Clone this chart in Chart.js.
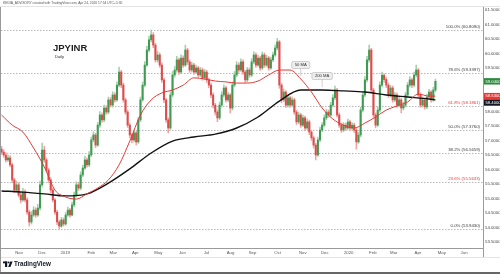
<!DOCTYPE html>
<html>
<head>
<meta charset="utf-8">
<script src="https://cdn.jsdelivr.net/npm/chart.js@4.4.0/dist/chart.umd.min.js"></script>
<style>
html, body { margin: 0; padding: 0; background: #fff; }
canvas { display: block; }
</style>
</head>
<body>
<canvas id="chart-area" width="500" height="274"></canvas>
<script>
// time axis: month labels and their bar positions
var monthLabels = ["Nov","Dec","2019","Feb","Mar","Apr","May","Jun","Jul","Aug","Sep","Oct","Nov","Dec","2020","Feb","Mar","Apr","May","Jun"];
var monthIdx = [8.2,19.0,29.8,42.0,52.3,62.6,73.4,84.6,95.9,107.1,117.4,129.2,140.9,151.2,162.4,173.7,183.5,194.8,206.0,216.4];

var priceTicks = [53.5,54,54.5,55,55.5,56,56.5,57,57.5,58,58.5,59,59.5,60,60.5,61,61.5];

// candles (one per two sessions)
var firstOpen = 56.70;
var closes = [
56.60,56.50,56.33,56.40,56.16,55.64,55.29,55.47,55.12,54.95,
55.22,54.95,54.53,54.19,54.43,54.60,54.43,54.67,55.47,56.67,
56.33,55.98,55.64,55.29,54.95,54.53,54.19,54.05,54.26,54.12,
54.43,54.60,54.43,54.78,55.12,55.47,55.36,55.81,56.05,56.33,
56.16,56.50,57.02,57.19,56.84,57.53,57.88,57.71,58.12,57.98,
58.40,58.22,58.57,58.40,58.91,59.36,58.91,58.40,57.98,57.53,
57.19,57.02,57.26,56.95,57.71,58.40,58.91,59.60,60.12,60.47,
60.64,60.29,59.78,59.95,59.60,59.09,58.40,57.71,57.43,58.57,
59.26,59.43,59.78,59.36,59.84,59.60,60.12,59.71,59.43,59.60,
59.36,59.50,59.26,59.43,59.16,59.36,59.09,58.91,58.57,58.22,
57.98,57.78,58.22,58.57,58.81,58.40,58.57,58.12,58.91,59.26,
59.60,59.43,59.71,59.36,59.09,59.43,59.26,59.71,59.95,59.60,
59.84,59.50,59.95,59.60,59.84,59.50,59.78,59.95,60.19,60.40,
58.91,58.40,58.67,58.22,58.47,58.22,58.40,57.98,57.64,57.88,
57.53,57.78,57.43,57.64,57.29,57.09,56.84,56.50,57.02,57.36,
57.53,57.78,57.98,57.88,58.22,58.47,58.74,57.88,57.53,57.36,
57.53,57.43,57.64,57.43,57.53,57.36,56.95,57.19,58.05,58.57,
59.09,59.78,60.12,58.74,57.88,57.53,58.05,58.91,59.25,59.10,
58.91,58.57,58.81,58.40,58.57,58.22,58.40,58.12,58.22,58.57,
58.91,59.09,58.91,59.26,59.43,58.57,58.22,58.40,58.16,58.50,
58.67,58.40,58.74,59.04
];
var highs = [
56.80,56.68,56.58,56.50,56.48,56.22,55.70,55.60,55.55,55.20,
55.35,55.30,55.02,54.60,54.55,54.72,54.68,54.80,55.60,56.91,
56.80,56.40,56.05,55.72,55.35,55.00,54.60,54.25,54.35,54.33,
54.52,54.70,54.66,54.88,55.22,55.58,55.55,55.92,56.15,56.45,
56.40,56.62,57.12,57.30,57.25,57.62,58.00,57.95,58.22,58.20,
58.50,58.48,58.68,58.65,59.02,59.53,59.42,58.98,58.46,58.05,
57.60,57.25,57.35,57.32,57.80,58.50,59.02,59.72,60.25,60.60,
60.81,60.72,60.35,60.08,60.02,59.68,59.15,58.45,57.78,58.68,
59.38,59.55,59.90,59.85,59.95,59.92,60.29,60.18,59.78,59.70,
59.66,59.60,59.56,59.52,59.50,59.45,59.42,59.15,58.98,58.64,
58.28,58.05,58.32,58.68,58.92,58.88,58.66,58.62,59.02,59.38,
59.72,59.68,59.82,59.78,59.42,59.52,59.50,59.82,60.06,60.02,
59.94,59.90,60.05,60.02,59.94,59.90,59.88,60.05,60.30,60.52,
60.45,58.98,58.78,58.72,58.56,58.52,58.50,58.46,58.04,57.98,
57.94,57.88,57.84,57.74,57.70,57.35,57.15,56.90,57.12,57.46,
57.62,57.88,58.08,58.05,58.32,58.58,58.88,58.80,57.95,57.60,
57.62,57.60,57.74,57.70,57.62,57.60,57.42,57.28,58.15,58.68,
59.20,59.90,60.29,60.18,58.80,57.95,58.15,59.02,59.36,59.30,
59.18,58.98,58.90,58.88,58.66,58.64,58.50,58.46,58.32,58.66,
59.00,59.20,59.15,59.36,59.60,59.48,58.64,58.50,58.46,58.60,
58.76,58.72,58.84,59.12
];
var lows = [
56.52,56.42,56.25,56.28,56.10,55.55,55.20,55.22,55.05,54.85,
54.90,54.88,54.45,54.05,54.12,54.38,54.35,54.38,54.60,55.40,
56.25,55.90,55.55,55.20,54.88,54.45,54.10,53.95,54.00,54.05,
54.08,54.38,54.36,54.40,54.72,55.05,55.28,55.30,55.75,56.00,
56.08,56.10,56.45,56.95,56.75,56.80,57.45,57.62,57.65,57.90,
57.92,58.15,58.15,58.32,58.35,58.85,58.82,58.32,57.90,57.45,
57.10,56.92,56.95,56.85,56.90,57.65,58.35,58.85,59.55,60.05,
60.40,60.20,59.70,59.70,59.52,59.00,58.30,57.62,57.26,57.38,
58.50,59.18,59.36,59.28,59.30,59.52,59.55,59.62,59.35,59.36,
59.28,59.30,59.18,59.20,59.08,59.10,59.00,58.82,58.48,58.12,
57.88,57.65,57.72,58.15,58.50,58.32,58.34,57.95,58.05,58.85,
59.20,59.35,59.38,59.28,59.00,59.02,59.18,59.20,59.65,59.52,
59.55,59.42,59.45,59.52,59.55,59.42,59.45,59.72,59.90,60.12,
58.80,58.30,58.34,58.14,58.15,58.14,58.16,57.90,57.55,57.58,
57.45,57.48,57.35,57.38,57.20,57.00,56.74,56.33,56.45,56.96,
57.30,57.48,57.72,57.80,57.82,58.16,58.40,57.80,57.45,57.28,
57.30,57.35,57.38,57.35,57.36,57.28,56.70,56.90,57.12,57.98,
58.50,59.02,59.70,58.65,57.80,57.44,57.48,57.98,58.85,59.00,
58.82,58.48,58.50,58.32,58.34,58.14,58.16,57.95,58.05,58.15,
58.50,58.84,58.82,58.85,59.20,58.48,58.14,58.15,58.08,58.10,
58.44,58.32,58.35,58.68
];

// moving averages
var ma50Idx = [0,5,10,15,20,25,30,35,40,45,50,55,60,65,70,75,80,85,90,95,100,105,110,115,120,125,130,135,140,145,150,155,160,165,170,175,180,185,190,195,200,203];
var ma50 = [57.88,57.53,57.29,56.74,56.09,55.29,55.05,54.98,55.16,55.36,55.64,56.16,56.98,57.88,58.40,58.64,58.74,58.91,59.16,59.12,59.05,59.02,58.98,58.98,59.05,59.26,59.43,59.43,59.12,58.67,58.12,57.74,57.53,57.43,57.60,57.81,58.05,58.19,58.33,58.60,58.53,58.53];
var ma200Idx = [0,10,20,30,40,50,60,70,80,90,100,110,120,130,140,150,160,170,180,190,200,203];
var ma200 = [55.26,55.22,55.16,55.09,55.16,55.53,56.02,56.57,56.98,57.12,57.22,57.43,57.81,58.36,58.74,58.74,58.71,58.67,58.57,58.50,58.43,58.40];

// fibonacci retracement
var fibRatios = ["100.0%","78.6%","61.8%","50.0%","38.2%","23.6%","0.0%"];
var fibValues = [60.8090,59.3397,58.1861,57.3760,56.5659,55.5633,53.9430];
var fibRed = [false,false,true,false,false,true,false];

var callouts = [
    {text: "50 MA", idx: 140, line: 0},
    {text: "200 MA", idx: 150, line: 1}
];

var UP = "#3f9a52", DOWN = "#de4b4b";
var UP_WICK = "#9fd0a8", DOWN_WICK = "#f0a3a3";
var FONT = '"Liberation Sans", Arial, sans-serif';

var opens = closes.map(function (c, i) { return i ? closes[i - 1] : firstOpen; });
var bodyColors = closes.map(function (c, i) { return c >= opens[i] ? UP : DOWN; });
var wickColors = closes.map(function (c, i) { return c >= opens[i] ? UP_WICK : DOWN_WICK; });

var overlay = {
    id: "overlay",
    beforeDatasetsDraw: function (chart) {
        var ctx = chart.ctx, a = chart.chartArea, y = chart.scales.y;
        ctx.save();
        ctx.lineWidth = 1;
        ctx.setLineDash([1.5, 1.5]);
        ctx.strokeStyle = "#b8b8b8";
        fibValues.forEach(function (v) {
            var py = Math.round(y.getPixelForValue(v)) + 0.5;
            ctx.beginPath();
            ctx.moveTo(a.left, py);
            ctx.lineTo(a.right, py);
            ctx.stroke();
        });
        ctx.setLineDash([]);
        ctx.font = "4.3px " + FONT;
        ctx.textAlign = "right";
        ctx.textBaseline = "bottom";
        fibValues.forEach(function (v, k) {
            ctx.fillStyle = fibRed[k] ? "#e53935" : "#3a3a3a";
            ctx.fillText(fibRatios[k] + " (" + v.toFixed(4) + ")", a.right - 3, y.getPixelForValue(v) - 1);
        });
        ctx.restore();
    },
    afterDatasetsDraw: function (chart) {
        var ctx = chart.ctx, x = chart.scales.x, y = chart.scales.y;
        ctx.save();
        ctx.font = "4.2px " + FONT;
        ctx.textAlign = "center";
        ctx.textBaseline = "middle";
        callouts.forEach(function (c) {
            var vals = c.line === 0 ? ma50 : ma200;
            var idxs = c.line === 0 ? ma50Idx : ma200Idx;
            var px = x.getPixelForValue(c.idx);
            var py = y.getPixelForValue(vals[idxs.indexOf(c.idx)]);
            var w = ctx.measureText(c.text).width + 6, h = 7;
            var bx = px - w / 2, by = py - 10.5 - h;
            ctx.strokeStyle = "#c4c4c4";
            ctx.lineWidth = 0.8;
            ctx.beginPath();
            ctx.moveTo(px, by + h);
            ctx.lineTo(px, py - 3);
            ctx.stroke();
            ctx.fillStyle = "#eeeeee";
            ctx.beginPath();
            ctx.roundRect(bx, by, w, h, 1.5);
            ctx.fill();
            ctx.stroke();
            ctx.fillStyle = "#333";
            ctx.fillText(c.text, px, by + h / 2 + 0.3);
        });
        ctx.restore();
    },
    afterDraw: function (chart) {
        var ctx = chart.ctx, a = chart.chartArea, y = chart.scales.y;
        var W = chart.width, H = chart.height;
        ctx.save();

        // frame
        ctx.fillStyle = "#9a9a9a";
        ctx.fillRect(0, 7, 1, H - 9);
        ctx.fillStyle = "#666";
        ctx.fillRect(0, H - 2, W, 2);
        ctx.fillStyle = "#e4e4e4";
        ctx.fillRect(0, 6, W, 1);
        ctx.fillRect(1, a.bottom + 9, W, 1);
        ctx.fillStyle = "#9a9a9a";
        ctx.fillRect(a.right, a.bottom, 1, 9);

        // header
        ctx.fillStyle = "#555";
        ctx.font = "3.3px " + FONT;
        ctx.textAlign = "left";
        ctx.textBaseline = "middle";
        ctx.fillText("KEDIA_ADVISORY created with TradingView.com, Apr 24, 2020 17:54 UTC+5:30", 3, 3.5);

        // title
        ctx.fillStyle = "#1e1e1e";
        ctx.font = "bold 9.5px " + FONT;
        ctx.textBaseline = "alphabetic";
        ctx.fillText("JPYINR", 53, 50.5);
        ctx.font = "4px " + FONT;
        ctx.fillText("Daily", 55, 58);

        // price tags
        function tag(val, bg, py) {
            ctx.fillStyle = bg;
            ctx.fillRect(a.right + 1, py - 3.2, W - a.right - 1, 6.4);
            ctx.fillStyle = "#fff";
            ctx.font = "4.2px " + FONT;
            ctx.textBaseline = "middle";
            ctx.fillText(val.toFixed(4), a.right + 2.5, py + 0.2);
        }
        var last = closes[closes.length - 1];
        tag(last, last >= opens[opens.length - 1] ? "#2e8b3e" : "#d32f2f", y.getPixelForValue(last));
        var pyRed = y.getPixelForValue(ma50[ma50.length - 1]);
        var pyBlack = Math.max(y.getPixelForValue(ma200[ma200.length - 1]), pyRed + 6.4);
        tag(ma200[ma200.length - 1], "#131722", pyBlack);
        tag(ma50[ma50.length - 1], "#e53935", pyRed);

        // TradingView logo
        ctx.fillStyle = "#131722";
        ctx.fillRect(3, 261.5, 4.2, 1.8);
        ctx.fillRect(5, 261.5, 2.2, 5.5);
        ctx.beginPath();
        ctx.arc(8.6, 262.4, 0.9, 0, Math.PI * 2);
        ctx.fill();
        ctx.beginPath();
        ctx.moveTo(10.2, 261.5);
        ctx.lineTo(12.6, 261.5);
        ctx.lineTo(10.4, 267);
        ctx.lineTo(8.2, 267);
        ctx.closePath();
        ctx.fill();
        ctx.font = "bold 6.3px " + FONT;
        ctx.textBaseline = "middle";
        ctx.fillText("TradingView", 14, 264.5);

        ctx.restore();
    }
};

var ctx = document.getElementById("chart-area");

var myChart = new Chart(ctx, {
    type: "bar",
    data: {
        datasets: [
            {
                type: "line",
                label: "50 MA",
                data: ma50Idx.map(function (v, k) { return {x: v, y: ma50[k]}; }),
                borderColor: "#e53935",
                borderWidth: 1,
                pointRadius: 0,
                cubicInterpolationMode: "monotone",
                order: 0
            },
            {
                type: "line",
                label: "200 MA",
                data: ma200Idx.map(function (v, k) { return {x: v, y: ma200[k]}; }),
                borderColor: "#111111",
                borderWidth: 1.4,
                pointRadius: 0,
                cubicInterpolationMode: "monotone",
                order: 0
            },
            {
                label: "body",
                data: closes.map(function (c, i) { return {x: i, y: [opens[i], c]}; }),
                backgroundColor: bodyColors,
                barThickness: 1.4,
                minBarLength: 0.7,
                grouped: false,
                order: 1
            },
            {
                label: "wick",
                data: closes.map(function (c, i) { return {x: i, y: [lows[i], highs[i]]}; }),
                backgroundColor: wickColors,
                barThickness: 0.9,
                grouped: false,
                order: 2
            }
        ]
    },
    options: {
        responsive: false,
        animation: false,
        devicePixelRatio: 1,
        layout: { padding: { left: 1, right: 0, top: 7, bottom: 16 } },
        plugins: { legend: { display: false }, tooltip: { enabled: false } },
        scales: {
            x: {
                type: "linear",
                min: -0.25,
                max: 225.25,
                offset: false,
                grid: { display: false, drawTicks: false },
                border: { color: "#9a9a9a" },
                ticks: {
                    font: { size: 4.3, family: FONT },
                    color: "#555",
                    padding: 2,
                    maxRotation: 0,
                    autoSkip: false,
                    callback: function (v, k) { return monthLabels[k]; }
                },
                afterBuildTicks: function (s) { s.ticks = monthIdx.map(function (v) { return {value: v}; }); },
                afterFit: function (s) { s.height = 10; }
            },
            y: {
                position: "right",
                min: 53.293,
                max: 61.603,
                grid: { display: false, drawTicks: false },
                border: { color: "#9a9a9a" },
                ticks: {
                    font: { size: 4.3, family: FONT },
                    color: "#444",
                    padding: 2,
                    callback: function (v) { return Number(v).toFixed(4); }
                },
                afterBuildTicks: function (s) { s.ticks = priceTicks.map(function (v) { return {value: v}; }); },
                afterFit: function (s) { s.width = 17; }
            }
        }
    },
    plugins: [overlay]
});
</script>
</body>
</html>
